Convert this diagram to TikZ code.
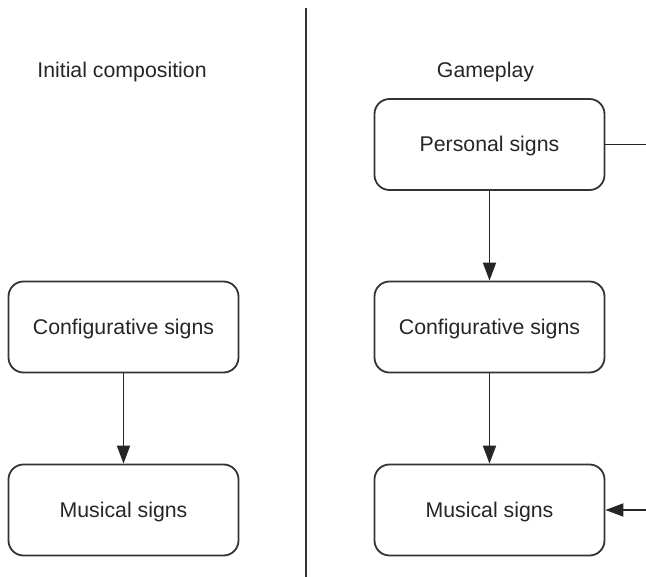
\documentclass[tikz,border=0pt]{standalone}
\usepackage{fontspec}
\setmainfont{Liberation Sans}
\usetikzlibrary{arrows.meta}
\tikzset{
  signbox/.style={draw=black!80, line width=1.8pt, rounded corners=15pt, fill=white,
    minimum width=230pt, minimum height=91pt, inner sep=0pt, text=black!85,
    text height=15pt, text depth=0pt, font=\fontsize{21.3}{25}\selectfont},
  heading/.style={text=black!85, font=\fontsize{21.3}{25}\selectfont, inner sep=0pt},
  link/.style={draw=black!85, line width=1.8pt},
  flow/.style={link, -{Triangle[length=18pt,width=13pt]}}
}
\begin{document}
\begin{tikzpicture}[x=1pt,y=-1pt]
\useasboundingbox (0,0) rectangle (646,577);

% Divider
\draw[line width=1.8pt, black!80] (306,8) -- (306,577);

% Headings
\node[heading] (inithead) at (122,72) {Initial composition};
\node[heading] (gamehead) at (485.5,72) {Gameplay};

% Initial composition
\node[signbox] (initconf) at (123.5,327) {Configurative signs};
\node[signbox] (initmus) at (123.5,510) {Musical signs};
\draw[flow] (initconf) -- (initmus);

% Gameplay
\node[signbox] (personal) at (489.5,144.5) {Personal signs};
\node[signbox] (gameconf) at (489.5,327) {Configurative signs};
\node[signbox] (gamemus) at (489.5,510) {Musical signs};
\draw[flow] (personal) -- (gameconf);
\draw[flow] (gameconf) -- (gamemus);

% Links leaving the picture
\coordinate (outright) at (646,144.5);
\coordinate (inright) at (646,510);
\draw[link] (personal.east) -- (outright);
\draw[flow] (inright) -- (gamemus.east);
\end{tikzpicture}
\end{document}
